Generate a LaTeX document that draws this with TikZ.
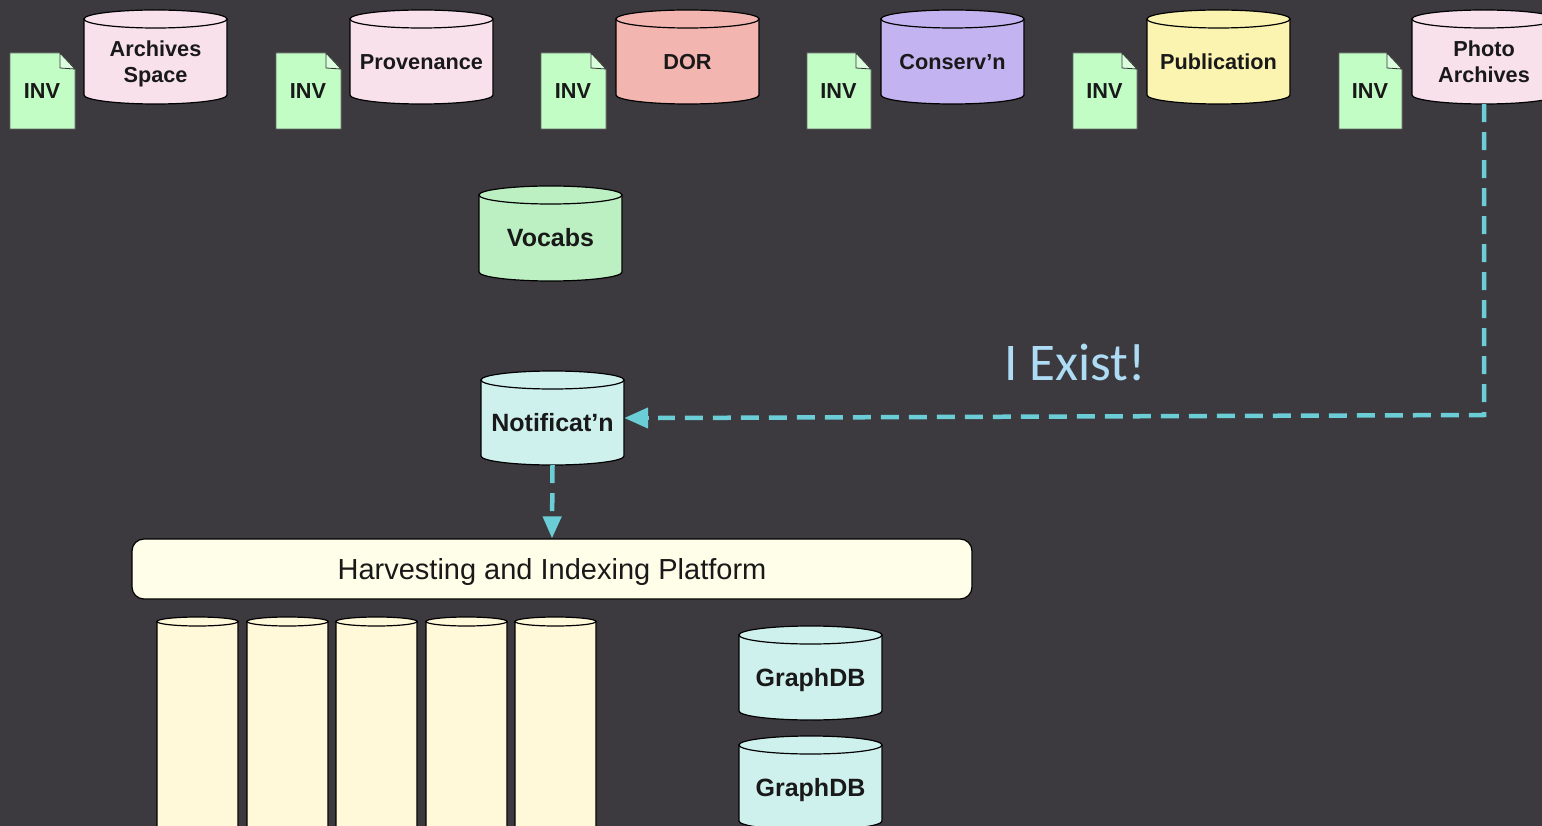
\documentclass[tikz,border=0pt]{standalone}
\usepackage{fontspec}
\setmainfont{Liberation Sans}
\newfontfamily\calib{Carlito}
\usetikzlibrary{arrows.meta}
\definecolor{bgc}{HTML}{3C3A3F}
\definecolor{pinkc}{HTML}{F9E1EC}
\definecolor{redc}{HTML}{F3B5B0}
\definecolor{purc}{HTML}{C3B3F0}
\definecolor{yelc}{HTML}{FAF4B0}
\definecolor{grnc}{HTML}{BCF0C2}
\definecolor{tealc}{HTML}{CFF1EE}
\definecolor{creamc}{HTML}{FFF8D9}
\definecolor{invc}{HTML}{C2FDC6}
\definecolor{platc}{HTML}{FEFEE9}
\definecolor{arrc}{HTML}{6BCDD6}
\definecolor{existc}{HTML}{AEDCF5}
\newcommand{\smallfont}{\fontsize{21.7}{26}\selectfont\bfseries}
\newcommand{\bigfont}{\fontsize{25}{30}\selectfont\bfseries}
\tikzset{
  dbtext/.style={align=center,font=\smallfont,text=black!90,inner sep=0pt},
  dbline/.style={draw=black,line width=1.2pt},
  invnode/.style={font=\smallfont,text=black!90,inner sep=0pt},
  flow/.style={draw=arrc,line width=4.5pt,dash pattern=on 18pt off 10pt},
  flowtip/.style={-{Triangle[length=22pt,width=18pt,fill=arrc]}},
  bigtip/.style={-{Triangle[length=24pt,width=20pt,fill=arrc]}},
}
% name, centre x, top, bottom, half width, ellipse radius, fill, text, text shift down
\newcommand{\cylnode}[9]{%
  \pgfmathsetmacro{\myl}{#2-#5}\pgfmathsetmacro{\myr}{#2+#5}%
  \pgfmathsetmacro{\myt}{#3+#6}\pgfmathsetmacro{\myb}{#4-#6}%
  \pgfmathsetmacro{\mym}{(#3+#6+#4)/2+#9}%
  \path[dbline,fill=#7] (\myl,\myt) -- (\myl,\myb) arc[start angle=180,end angle=360,x radius=#5pt,y radius=#6pt] -- (\myr,\myt) -- cycle;
  \path[dbline,fill=#7] (#2,\myt) circle[x radius=#5pt,y radius=#6pt];
  \node[dbtext,minimum width=#5pt*2,minimum height=#4pt-#3pt-#6pt] (#1) at (#2,\mym) {#8};
}
% name, left, right
\newcommand{\invdoc}[3]{%
  \pgfmathsetmacro{\myl}{#2}\pgfmathsetmacro{\myr}{#3}\pgfmathsetmacro{\myf}{#3-15}%
  \path[draw=black!60,line width=0.8pt,fill=invc] (\myl,53) -- (\myf,53) -- (\myr,69) -- (\myr,129) -- (\myl,129) -- cycle;
  \path[draw=black!80,line width=0.8pt,fill=invc!60!white] (\myf,53) -- (\myf,68) -- (\myr,69) -- cycle;
  \node[invnode] (#1) at ({(#2+#3)/2-0.5},91) {INV};
}
\begin{document}
\begin{tikzpicture}[x=1pt,y=-1pt]
\useasboundingbox (0,0) rectangle (1542,826);
\clip (0,0) rectangle (1542,826);
\fill[bgc] (0,0) rectangle (1542,826);
\invdoc{inva}{10}{75}
\invdoc{invb}{276}{341}
\invdoc{invc}{541}{606}
\invdoc{invd}{807}{871}
\invdoc{inve}{1073}{1137}
\invdoc{invf}{1339}{1402}
\cylnode{archives}{155.5}{10}{104}{71.5}{9}{pinkc}{Archives\\Space}{2}
\cylnode{prov}{421.5}{10}{104}{71.5}{9}{pinkc}{Provenance}{1}
\cylnode{dor}{687.5}{10}{104}{71.5}{9}{redc}{DOR}{1}
\cylnode{cons}{952.5}{10}{104}{71.5}{9}{purc}{Conserv’n}{1}
\cylnode{publ}{1218.5}{10}{104}{71.5}{9}{yelc}{Publication}{0}
\cylnode{photo}{1484}{10}{104}{72}{9}{pinkc}{Photo\\Archives}{0}
\cylnode{vocabs}{550.5}{186}{281}{71.5}{9}{grnc}{\bigfont Vocabs}{0}
\cylnode{notif}{552.5}{371}{465}{71.5}{9}{tealc}{\bigfont Notificat’n}{0}
\cylnode{gdba}{810.5}{626}{720}{71.5}{9}{tealc}{\bigfont GraphDB}{2.5}
\cylnode{gdbb}{810.5}{736}{830}{71.5}{9}{tealc}{\bigfont GraphDB}{2.5}
\cylnode{ta}{197.5}{617}{834}{40.5}{4.5}{creamc}{}{0}
\cylnode{tb}{287.5}{617}{834}{40.5}{4.5}{creamc}{}{0}
\cylnode{tc}{376.5}{617}{834}{40.5}{4.5}{creamc}{}{0}
\cylnode{td}{466.5}{617}{834}{40.5}{4.5}{creamc}{}{0}
\cylnode{te}{555.5}{617}{834}{40.5}{4.5}{creamc}{}{0}
\node[draw=black,line width=1.2pt,fill=platc,rounded corners=12pt,minimum width=840pt,minimum height=60pt,inner sep=0pt,font=\fontsize{29}{34}\selectfont,text=black!90] (plat) at (552,569) {\raisebox{-10.5pt}[0pt][0pt]{Harvesting and Indexing Platform}};
\node[font=\calib\fontsize{53}{60}\selectfont,text=existc,inner sep=0pt] (exist) at (1075,362.5) {I Exist!};
\coordinate (corner) at (1484,415);
\draw[flow] (photo.south) -- (corner) -- ([yshift=4.5pt,xshift=34pt]notif.east);
\draw[bigtip,draw=arrc,line width=4.5pt] ([yshift=4.5pt,xshift=25pt]notif.east) -- ([yshift=4.5pt]notif.east);
\draw[flow,flowtip] (notif.south) -- (plat.north);
\end{tikzpicture}
\end{document}
